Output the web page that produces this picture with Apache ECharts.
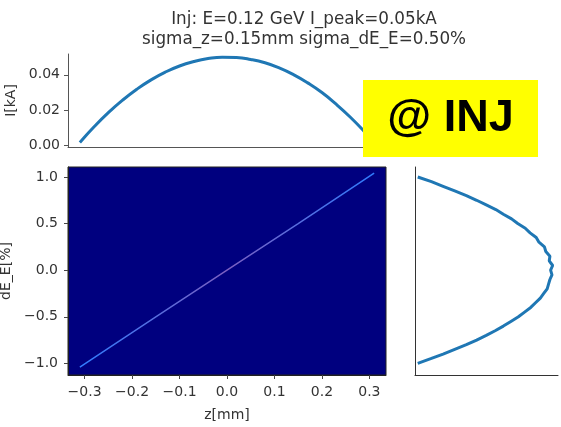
<!DOCTYPE html>
<html>
<head>
<meta charset="utf-8">
<script src="https://cdn.jsdelivr.net/npm/echarts@6/dist/echarts.min.js"></script>
<style>html,body{margin:0;padding:0;background:#fff}#c{width:561px;height:427px}</style>
</head>
<body>
<div id="c"></div>
<script>
// ---- data ----
var titleLines = ['Inj: E=0.12 GeV I_peak=0.05kA', 'sigma_z=0.15mm sigma_dE_E=0.50%'];
var badgeText = '@ INJ';
// current profile (top panel)
var zCurrent = [-0.31,-0.28,-0.25,-0.22,-0.19,-0.16,-0.13,-0.10,-0.07,-0.04,-0.01,0.02,0.05,0.08,0.11,0.14,0.17,0.20,0.23,0.26,0.29,0.31];
var iCurrent = [0.0016,0.0105,0.0185,0.0256,0.0318,0.0371,0.0415,0.0450,0.0475,0.0492,0.0500,0.0498,0.0487,0.0468,0.0439,0.0401,0.0354,0.0299,0.0233,0.0159,0.0076,0.0016];
// longitudinal phase space (main panel, thin chirp line)
var zPhase = [-0.31, -0.15, 0.0, 0.15, 0.31];
var dEPhase = [-1.04, -0.50, 0.0, 0.50, 1.04];
// energy histogram (right panel)
var dEHist = [-1.00,-0.95,-0.90,-0.85,-0.80,-0.75,-0.70,-0.65,-0.60,-0.55,-0.50,-0.45,-0.40,-0.35,-0.30,-0.25,-0.20,-0.15,-0.10,-0.05,0.00,0.05,0.10,0.15,0.20,0.25,0.30,0.35,0.40,0.45,0.50,0.55,0.60,0.65,0.70,0.75,0.80,0.85,0.90,0.95,1.00];
var countHist = [0.02,0.115,0.205,0.29,0.375,0.45,0.52,0.585,0.645,0.70,0.755,0.80,0.845,0.88,0.915,0.94,0.965,0.975,0.985,1.0,0.99,1.005,0.98,0.985,0.955,0.945,0.905,0.885,0.84,0.805,0.75,0.705,0.645,0.59,0.52,0.45,0.375,0.29,0.205,0.12,0.02];
// tick labels
var zTicks = [-0.3,-0.2,-0.1,0.0,0.1,0.2,0.3];
var dETicks = [-1.0,-0.5,0.0,0.5,1.0];
var iTicks = [0.00,0.02,0.04];

function pairs(a,b){return a.map(function(v,i){return [v,b[i]];});}
function fmt(d){return function(v){var s=Math.abs(v).toFixed(d);return (v< -1e-9?'\u2212':'')+s;};}

var FONT = 'DejaVu Sans';
var TXT = '#333';
var chart = echarts.init(document.getElementById('c'), null, {renderer:'canvas'});
var option = {
  animation:false,
  backgroundColor:'#fff',
  textStyle:{fontFamily:FONT},
  grid:[
    {left:68, top:54, width:318, height:93, containLabel:false, outerBoundsMode:'none'},
    {left:68, top:167, width:318, height:208, show:true, backgroundColor:'#00007f', borderColor:'#222', borderWidth:1, containLabel:false, outerBoundsMode:'none'},
    {left:415, top:167, width:143, height:208, containLabel:false, outerBoundsMode:'none'}
  ],
  xAxis:[
    {gridIndex:0, type:'value', min:-0.335, max:0.335,
     axisLine:{show:true, onZero:false, lineStyle:{color:'#555', width:1}},
     axisTick:{show:false}, axisLabel:{show:false}, splitLine:{show:false}},
    {gridIndex:1, type:'value', min:-0.335, max:0.335,
     name:'z[mm]', nameLocation:'middle', nameGap:33,
     nameTextStyle:{fontFamily:FONT, fontSize:14, color:TXT},
     axisLine:{show:true, onZero:false, lineStyle:{color:'#222'}},
     axisTick:{show:true, length:4, customValues:zTicks, lineStyle:{color:'#444'}},
     axisLabel:{show:true, customValues:zTicks, formatter:fmt(1), margin:10, fontFamily:FONT, fontSize:14, color:TXT},
     splitLine:{show:false}},
    {gridIndex:2, type:'value', min:0, max:1.044,
     axisLine:{show:true, onZero:false, lineStyle:{color:'#333'}},
     axisTick:{show:false}, axisLabel:{show:false}, splitLine:{show:false}}
  ],
  yAxis:[
    {gridIndex:0, type:'value', min:-0.001, max:0.0518,
     name:'I[kA]', nameLocation:'middle', nameGap:47, nameRotate:90,
     nameTextStyle:{fontFamily:FONT, fontSize:14, color:TXT},
     axisLine:{show:true, onZero:false, lineStyle:{color:'#555'}},
     axisTick:{show:true, length:4, customValues:iTicks, lineStyle:{color:'#555'}},
     axisLabel:{show:true, customValues:iTicks, formatter:fmt(2), margin:8, fontFamily:FONT, fontSize:14, color:TXT},
     splitLine:{show:false}},
    {gridIndex:1, type:'value', min:-1.125, max:1.107,
     name:'dE_E[%]', nameLocation:'middle', nameGap:51, nameRotate:90,
     nameTextStyle:{fontFamily:FONT, fontSize:14, color:TXT},
     axisLine:{show:true, onZero:false, lineStyle:{color:'#222'}},
     axisTick:{show:true, length:4, customValues:dETicks, lineStyle:{color:'#444'}},
     axisLabel:{show:true, customValues:dETicks, formatter:fmt(1), margin:10, fontFamily:FONT, fontSize:14, color:TXT},
     splitLine:{show:false}},
    {gridIndex:2, type:'value', min:-1.125, max:1.107,
     axisLine:{show:true, onZero:false, lineStyle:{color:'#333'}},
     axisTick:{show:false}, axisLabel:{show:false}, splitLine:{show:false}}
  ],
  series:[
    {type:'line', xAxisIndex:0, yAxisIndex:0, data:pairs(zCurrent,iCurrent), smooth:true,
     showSymbol:false, lineStyle:{color:'#1f77b4', width:3}},
    {type:'line', xAxisIndex:1, yAxisIndex:1, data:pairs(zPhase,dEPhase),
     showSymbol:false, lineStyle:{width:1.5, color:new echarts.graphic.LinearGradient(0,0,1,0,[
       {offset:0,color:'#2f7dff'},{offset:0.5,color:'#7b5fc0'},{offset:1,color:'#2f7dff'}])}},
    {type:'line', xAxisIndex:2, yAxisIndex:2, data:pairs(countHist,dEHist),
     showSymbol:false, lineStyle:{color:'#1f77b4', width:3}}
  ],
  graphic:[
    {type:'text', x:304, y:20, style:{text:titleLines[0], fontFamily:FONT, fontSize:16.8, fill:TXT, textAlign:'center', textVerticalAlign:'middle'}},
    {type:'text', x:304, y:40, style:{text:titleLines[1], fontFamily:FONT, fontSize:16.8, fill:TXT, textAlign:'center', textVerticalAlign:'middle'}},
    {type:'rect', shape:{x:363, y:80, width:175, height:77}, style:{fill:'#ffff00'}, z:100},
    {type:'text', x:450.5, y:119, z:101, style:{text:badgeText, fontFamily:'Liberation Sans', fontWeight:'bold', fontSize:45, fill:'#000', textAlign:'center', textVerticalAlign:'middle'}}
  ]
};
chart.setOption(option);
</script>
</body>
</html>
